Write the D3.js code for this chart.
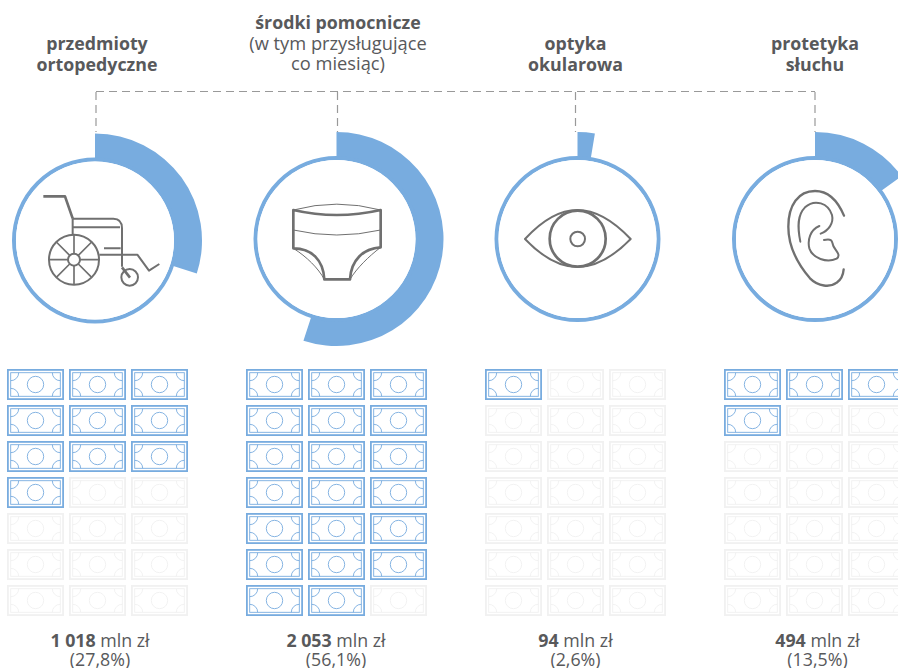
<!DOCTYPE html>
<html><head><meta charset="utf-8">
<style>html,body{margin:0;padding:0;background:#fff;overflow:hidden}svg{display:block}</style>
<script src="https://cdn.jsdelivr.net/npm/d3@7"></script></head>
<body><svg id="c" width="898" height="668"></svg>
<script>
const categories = ["przedmioty ortopedyczne","środki pomocnicze","optyka okularowa","protetyka słuchu"];
const titleLines = [
  [["przedmioty",true],["ortopedyczne",true]],
  [["środki pomocnicze",true],["(w tym przysługujące",false],["co miesiąc)",false]],
  [["optyka",true],["okularowa",true]],
  [["protetyka",true],["słuchu",true]]
];
const amounts = ["1 018","2 053","94","494"];
const shares = ["(27,8%)","(56,1%)","(2,6%)","(13,5%)"];
const arcSweepPercent = [30,55,2.6,15];
const billsFilled = [10,20,1,4];
const billRows = [0,1,2,3,4,5,6];
const billCols = [0,1,2];

const BLUE="#78ACDF", GREY="#58595B", ICON="#707070", FAINT="#F1F1F1", FONT="'Open Sans',sans-serif";
const svg=d3.select("#c");
const cx=d3.scaleOrdinal().domain(categories).range([95,336.5,577.5,815]);
const cy=d3.scaleOrdinal().domain(categories).range([240.5,239,239,239]);
const dropX=d3.scaleOrdinal().domain(categories).range([96,337.5,575.5,815]);
const titleX=d3.scaleOrdinal().domain(categories).range([97,338,575.5,815]);
const titleY=d3.scaleOrdinal().domain(categories).range([50,29,50,50]);
const footX=d3.scaleOrdinal().domain(categories).range([100,336,575.5,817.5]);
const billX=d3.scaleOrdinal().domain(categories).range([7,246,485,724]);
const col=d3.scalePoint().domain(billCols).range([0,124]);
const row=d3.scalePoint().domain(billRows).range([369,585]);
const angle=d3.scaleLinear().domain([0,100]).range([0,2*Math.PI]);
const BW=57,BH=31;

// connector
const dash=svg.append("g").attr("fill","none").attr("stroke","#999").attr("stroke-width",1.2).attr("stroke-dasharray","8 5");
dash.append("line").attr("x1",dropX(categories[0])).attr("x2",dropX(categories[3])).attr("y1",91.5).attr("y2",91.5);
dash.selectAll("line.d").data(categories).join("line").attr("class","d")
  .attr("x1",dropX).attr("x2",dropX).attr("y1",92).attr("y2",132);

// titles
categories.forEach((c,i)=>{
  titleLines[i].forEach((l,j)=>{
    svg.append("text").attr("text-anchor","middle").attr("fill",GREY).attr("font-family",FONT)
     .attr("x",titleX(c)).attr("y",titleY(c)+j*(i===1?20.5:21))
     .attr("font-weight",l[1]?700:400).attr("font-size",l[1]?17.8:18.3).text(l[0]);
  });
});

// rings
const arc=d3.arc().innerRadius(79).outerRadius(107).startAngle(0);
const g=svg.selectAll("g.ring").data(categories).join("g").attr("class","ring")
  .attr("transform",d=>`translate(${cx(d)},${cy(d)})`);
g.append("path").attr("fill",BLUE).attr("d",(d,i)=>arc({endAngle:angle(arcSweepPercent[i])}));
g.append("circle").attr("r",81).attr("fill","#fff").attr("stroke",BLUE).attr("stroke-width",4);
g.append("circle").attr("r",79).attr("fill","#fff");

// icons, traced in 3x crop units
const icon=(ox,oy)=>svg.append("g").attr("transform",`translate(${ox},${oy}) scale(${1/3})`)
  .attr("fill","none").attr("stroke",ICON).attr("stroke-width",6).attr("stroke-linejoin","round");
const wc=icon(0,120);
wc.append("path").attr("stroke-width",8).attr("d","M130 229H195L218 295");
wc.append("path").attr("d","M218 295V345M218 296H340Q366 296 366 325V440M218 322H360M312 385H362M298 404H412L447 452L478 432");
wc.append("path").attr("stroke-width",8).attr("d","M366 442L390 473");
wc.append("circle").attr("cx",222).attr("cy",419).attr("r",75);
wc.append("circle").attr("cx",222).attr("cy",419).attr("r",18);
wc.append("circle").attr("cx",389).attr("cy",472).attr("r",25);
wc.append("path").attr("stroke-width",5).attr("d","M222 344V401M222 437V494M147 419H204M240 419H297M169 366L209 406M235 432L275 472M275 366L235 406M209 432L169 472");
const pa=icon(240,120);
pa.append("path").attr("stroke-width",3).attr("d","M160 270Q290 235 422 270M160 330Q290 360 422 330M160 385C200 410 235 445 253 478M422 382C385 410 350 445 330 478");
pa.append("path").attr("stroke-width",8).attr("d","M160 270Q290 300 422 270V382C370 385 333 420 330 478H253C250 420 215 385 160 385Z");
const ey=icon(480,120);
ey.append("path").attr("d","M135 357Q215 270 292 270Q370 270 452 357Q370 441 292 441Q215 441 135 357Z");
ey.append("circle").attr("cx",293).attr("cy",356).attr("r",84).attr("stroke-width",8);
ey.append("circle").attr("cx",293).attr("cy",357).attr("r",22);
const ea=icon(720,120);
ea.attr("stroke-linecap","round");
ea.append("path").attr("stroke-width",7).attr("d","M372 287C350 235 320 213 285 213C235 213 205 255 205 320C205 385 240 440 270 475C295 500 330 503 350 488C365 478 370 460 371 448");
ea.append("path").attr("d","M241 365C232 320 232 285 255 262C285 235 325 250 336 285C342 310 325 332 302 341");
ea.append("path").attr("d","M298 318C270 330 262 360 268 385C278 415 320 430 350 416C365 405 345 390 340 378C335 365 340 355 312 360");

// bills
const corners=[[1,1],[-1,1],[1,-1],[-1,-1]];
categories.forEach((c,i)=>{
  billRows.forEach((r,ri)=>billCols.forEach((k,ki)=>{
    const on=ri*billCols.length+ki<billsFilled[i];
    const stroke=on?BLUE:FAINT;
    const b=svg.append("g").attr("transform",`translate(${billX(c)+col(k)},${row(r)})`)
      .attr("fill","none").attr("stroke",stroke);
    b.append("rect").attr("x",.9).attr("y",.9).attr("width",BW-1.8).attr("height",BH-1.8).attr("stroke-width",1.8);
    b.append("rect").attr("x",3.7).attr("y",3.7).attr("width",BW-7.4).attr("height",BH-7.4).attr("stroke-width",.9);
    b.append("circle").attr("cx",BW/2).attr("cy",BH/2).attr("r",8.2).attr("stroke-width",.9);
    corners.forEach(([sx,sy])=>{
      const X=sx>0?3.7:BW-3.7, Y=sy>0?3.7:BH-3.7;
      b.append("path").attr("stroke-width",.9)
       .attr("d",`M${X+sx*8} ${Y}A8 8 0 0 ${sx*sy>0?1:0} ${X} ${Y+sy*8}`);
    });
  }));
});

// footers
categories.forEach((c,i)=>{
  const t=svg.append("text").attr("text-anchor","middle").attr("fill",GREY).attr("font-family",FONT).attr("font-size",17.8)
    .attr("x",footX(c)).attr("y",647);
  t.append("tspan").attr("font-weight",700).text(amounts[i]);
  t.append("tspan").text(" mln zł");
  svg.append("text").attr("text-anchor","middle").attr("fill",GREY).attr("font-family",FONT).attr("font-size",17.8)
    .attr("x",footX(c)).attr("y",666).text(shares[i]);
});
</script></body></html>
